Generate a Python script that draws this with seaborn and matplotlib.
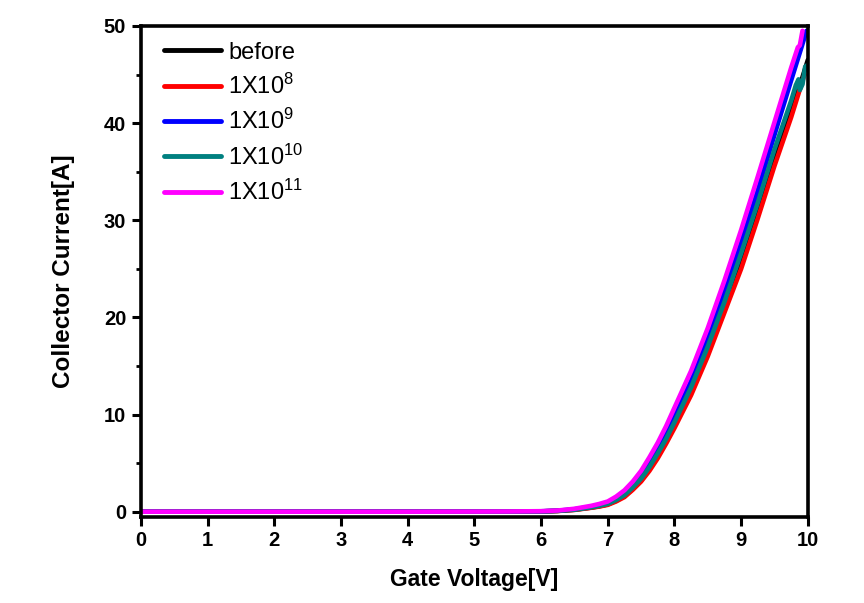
import numpy as np
import pandas as pd
import matplotlib
matplotlib.use("Agg")
import matplotlib.pyplot as plt
import seaborn as sns

# ---- data ----
labels = ["before", "1X10$^{8}$", "1X10$^{9}$", "1X10$^{10}$", "1X10$^{11}$"]
colors = ["#000000", "#FF0000", "#0000FF", "#008080", "#FF00FF"]

V_before = [0, 1, 2, 3, 4, 5, 5.5, 6.0, 6.25, 6.5, 6.75, 6.875, 7.0, 7.125, 7.25, 7.375, 7.5, 7.625, 7.75, 7.875, 8.0, 8.25, 8.5, 8.75, 9.0, 9.25, 9.5, 9.75, 9.9, 10.0]
I_before = [0, 0, 0, 0, 0, 0.01, 0.02, 0.03, 0.08, 0.2, 0.42, 0.56, 0.75, 1.12, 1.6, 2.35, 3.2, 4.4, 5.7, 7.2, 8.8, 12.3, 16.4, 20.9, 25.6, 30.8, 36.2, 41.2, 44.3, 46.5]

V_e8 = [0, 1, 2, 3, 4, 5, 5.5, 6.0, 6.25, 6.5, 6.75, 6.875, 7.0, 7.125, 7.25, 7.375, 7.5, 7.625, 7.75, 7.875, 8.0, 8.25, 8.5, 8.75, 9.0, 9.25, 9.5, 9.75, 9.9, 9.95]
I_e8 = [0, 0, 0, 0, 0, 0.01, 0.02, 0.03, 0.07, 0.18, 0.4, 0.53, 0.7, 1.05, 1.5, 2.25, 3.1, 4.2, 5.5, 7.0, 8.6, 12.0, 16.0, 20.5, 25.0, 30.2, 35.6, 40.6, 43.9, 45.0]

V_e9 = [0, 1, 2, 3, 4, 5, 5.5, 6.0, 6.25, 6.5, 6.75, 6.875, 7.0, 7.125, 7.25, 7.375, 7.5, 7.625, 7.75, 7.875, 8.0, 8.25, 8.5, 8.75, 9.0, 9.25, 9.5, 9.75, 9.9, 9.98]
I_e9 = [0, 0, 0, 0, 0, 0.01, 0.02, 0.04, 0.1, 0.25, 0.5, 0.68, 0.9, 1.35, 1.9, 2.7, 3.7, 5.0, 6.4, 8.0, 9.8, 13.5, 17.8, 22.6, 27.7, 33.1, 38.8, 44.4, 47.7, 49.5]

V_e10 = [0, 1, 2, 3, 4, 5, 5.5, 6.0, 6.25, 6.5, 6.75, 6.875, 7.0, 7.125, 7.25, 7.375, 7.5, 7.625, 7.75, 7.875, 8.0, 8.25, 8.5, 8.75, 9.0, 9.25, 9.5, 9.75, 9.82, 9.86, 9.88, 9.92, 9.96, 10.0]
I_e10 = [0, 0, 0, 0, 0, 0.01, 0.02, 0.03, 0.08, 0.2, 0.45, 0.6, 0.8, 1.2, 1.7, 2.5, 3.4, 4.6, 6.0, 7.5, 9.2, 12.8, 17.0, 21.6, 26.6, 31.8, 37.3, 42.3, 43.9, 44.5, 43.4, 44.0, 45.8, 46.0]

V_e11 = [0, 1, 2, 3, 4, 5, 5.5, 6.0, 6.25, 6.5, 6.75, 6.875, 7.0, 7.125, 7.25, 7.375, 7.5, 7.625, 7.75, 7.875, 8.0, 8.25, 8.5, 8.75, 9.0, 9.25, 9.5, 9.75, 9.85, 9.88, 9.92]
I_e11 = [0, 0, 0, 0, 0, 0.01, 0.02, 0.05, 0.12, 0.3, 0.6, 0.8, 1.05, 1.55, 2.2, 3.1, 4.2, 5.6, 7.1, 8.8, 10.7, 14.5, 18.9, 23.8, 29.0, 34.5, 40.1, 45.7, 47.8, 48.0, 49.5]

series = [(V_before, I_before), (V_e8, I_e8), (V_e9, I_e9), (V_e10, I_e10), (V_e11, I_e11)]

rows = []
for lab, (vs, iss) in zip(labels, series):
    for v, i in zip(vs, iss):
        rows.append({"V": v, "I": i, "dose": lab})
df = pd.DataFrame(rows)

# ---- style ----
sns.set_style("ticks")
plt.rcParams["font.family"] = ["Liberation Sans", "DejaVu Sans"]
plt.rcParams["mathtext.fontset"] = "custom"
plt.rcParams["mathtext.rm"] = "Liberation Sans"
plt.rcParams["mathtext.it"] = "Liberation Sans"
plt.rcParams["mathtext.default"] = "regular"
plt.rcParams["text.color"] = "black"
plt.rcParams["axes.labelcolor"] = "black"
plt.rcParams["xtick.color"] = "black"
plt.rcParams["ytick.color"] = "black"

fig = plt.figure(figsize=(8.64, 6.03), dpi=100)
ax = fig.add_axes([0.163, 0.1434, 0.772, 0.8136])

sns.lineplot(data=df, x="V", y="I", hue="dose", hue_order=labels,
             palette=colors, sort=False, estimator=None, units="dose",
             linewidth=3.3, ax=ax, legend=False)
for ln in ax.get_lines():
    ln.set_solid_joinstyle("round")
    ln.set_solid_capstyle("round")

ax.set_xlim(0, 10)
ax.set_ylim(-0.5, 50)
ax.set_xticks(np.arange(0, 11, 1))
ax.set_yticks(np.arange(0, 51, 10))
ax.set_yticks(np.arange(5, 50, 10), minor=True)

for s in ax.spines.values():
    s.set_visible(True)
    s.set_linewidth(2.6)
    s.set_color("black")

ax.tick_params(axis="both", which="major", direction="out", length=6.5, width=2.2,
               labelsize=14.5, pad=4, color="black", labelcolor="black")
ax.tick_params(axis="y", which="minor", direction="out", length=3.8, width=2.0, color="black")
for t in ax.get_xticklabels() + ax.get_yticklabels():
    t.set_fontweight("bold")

ax.set_xlabel("Gate Voltage[V]", fontsize=16.5, fontweight="bold", labelpad=13, color="black")
ax.set_ylabel("Collector Current[A]", fontsize=17.5, fontweight="bold", labelpad=21, color="black")

handles = [plt.Line2D([], [], color=c, linewidth=3.5) for c in colors]
leg = ax.legend(handles, labels, loc="upper left", bbox_to_anchor=(0.0, 1.016),
                frameon=False, fontsize=17, handlelength=2.4, handletextpad=0.3,
                labelspacing=0.43, borderaxespad=0.6)
for t in leg.get_texts():
    t.set_color("black")

fig.savefig("out.png", dpi=100)
